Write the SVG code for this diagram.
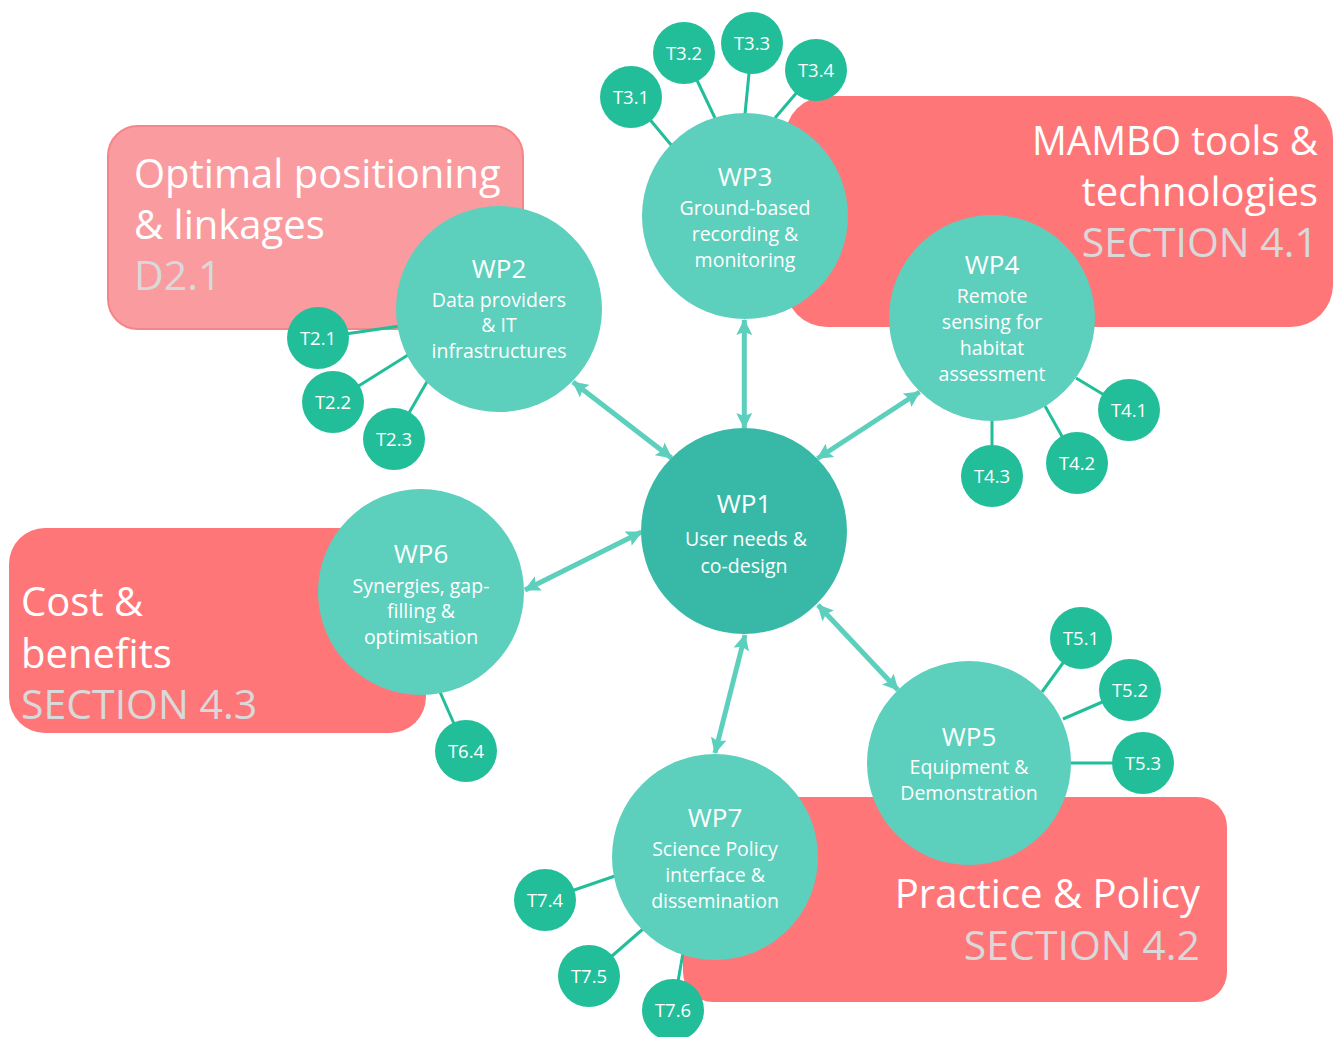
<svg xmlns="http://www.w3.org/2000/svg" width="1338" height="1037" viewBox="0 0 1338 1037">
<defs>
<marker id="ah" viewBox="0 0 16 16" refX="15" refY="8" markerWidth="16" markerHeight="16" markerUnits="userSpaceOnUse" orient="auto-start-reverse">
<path d="M0,0 L16,8 L0,16 L3,8 Z" fill="#5DCFBD"/>
</marker>
<style>
.box{fill:#FF7679}
.boxl{fill:#FA9B9F;stroke:#F4868A;stroke-width:2}
.big{font-family:"Open Sans","Liberation Sans",sans-serif;font-size:40px;fill:#FFFFFF}
.sec{font-family:"Open Sans","Liberation Sans",sans-serif;font-size:41px;fill:#D9D9D9}
.wp{fill:#5DCFBD}
.wp1{fill:#38B9A7}
.t{fill:#21BE99}
.wt{font-family:"Open Sans","Liberation Sans",sans-serif;font-size:26px;fill:#FFFFFF;text-anchor:middle}
.ws{font-family:"Open Sans","Liberation Sans",sans-serif;font-size:19.5px;fill:#FFFFFF;text-anchor:middle}
.tt{font-family:"Open Sans","Liberation Sans",sans-serif;font-size:18.5px;fill:#FFFFFF;text-anchor:middle}
.arr{stroke:#5DCFBD;stroke-width:5;fill:none;marker-start:url(#ah);marker-end:url(#ah)}
.tl{stroke:#21BE99;stroke-width:3}
</style>
</defs>
<rect width="1338" height="1037" fill="#FFFFFF"/>

<g id="box-optimal">
<rect class="boxl" x="108" y="126" width="415" height="203" rx="30"/>
<text class="big" x="134" y="188">Optimal positioning</text>
<text class="big" x="134" y="239">&amp; linkages</text>
<text class="sec" x="134" y="290">D2.1</text>
</g>
<g id="box-mambo">
<rect class="box" x="785" y="96" width="548" height="231" rx="42"/>
<text class="big" x="1318" y="155" text-anchor="end" textLength="286" lengthAdjust="spacingAndGlyphs">MAMBO tools &amp;</text>
<text class="big" x="1318" y="206" text-anchor="end">technologies</text>
<text class="sec" x="1318" y="257" text-anchor="end">SECTION 4.1</text>
</g>
<g id="box-cost">
<rect class="box" x="9" y="528" width="417" height="205" rx="36"/>
<text class="big" x="21" y="616">Cost &amp;</text>
<text class="big" x="21" y="668">benefits</text>
<text class="sec" x="21" y="719">SECTION 4.3</text>
</g>
<g id="box-practice">
<rect class="box" x="683" y="797" width="544" height="205" rx="30"/>
<text class="big" x="1200" y="908" text-anchor="end">Practice &amp; Policy</text>
<text class="sec" x="1200" y="960" text-anchor="end">SECTION 4.2</text>
</g>

<g id="connectors">
<line class="arr" x1="744.3" y1="428" x2="744.3" y2="320"/>
<line class="arr" x1="671.5" y1="458" x2="573" y2="382"/>
<line class="arr" x1="817.5" y1="458.5" x2="919.5" y2="392"/>
<line class="arr" x1="641.5" y1="532" x2="525" y2="590"/>
<line class="arr" x1="818" y1="605" x2="898" y2="690"/>
<line class="arr" x1="745" y1="635" x2="715" y2="753"/>
<line class="tl" x1="631" y1="97" x2="672" y2="146"/>
<line class="tl" x1="684" y1="53" x2="715" y2="118"/>
<line class="tl" x1="752" y1="43" x2="745" y2="114"/>
<line class="tl" x1="816" y1="70" x2="775" y2="118"/>
<line class="tl" x1="318" y1="338" x2="400" y2="326"/>
<line class="tl" x1="333" y1="402" x2="408" y2="355"/>
<line class="tl" x1="394" y1="439" x2="428" y2="380"/>
<line class="tl" x1="1129" y1="410" x2="1076" y2="378"/>
<line class="tl" x1="1077" y1="463" x2="1045" y2="406"/>
<line class="tl" x1="992" y1="476" x2="992" y2="420"/>
<line class="tl" x1="1081" y1="638" x2="1042" y2="692"/>
<line class="tl" x1="1130" y1="690" x2="1063" y2="719"/>
<line class="tl" x1="1143" y1="763" x2="1070" y2="763"/>
<line class="tl" x1="466" y1="751" x2="440" y2="692"/>
<line class="tl" x1="545" y1="900" x2="615" y2="876"/>
<line class="tl" x1="589" y1="976" x2="643" y2="929"/>
<line class="tl" x1="673" y1="1010" x2="683" y2="953"/>
</g>

<g id="WP1"><circle class="wp1" cx="744" cy="531" r="103"/>
<text class="wt" x="744" y="513">WP1</text>
<text class="ws" x="746" y="546">User needs &amp;</text>
<text class="ws" x="744" y="573">co-design</text></g>
<g id="WP2"><circle class="wp" cx="499" cy="309" r="103"/>
<text class="wt" x="499" y="278">WP2</text>
<text class="ws" x="499" y="307">Data providers</text>
<text class="ws" x="499" y="332">&amp; IT</text>
<text class="ws" x="499" y="358">infrastructures</text></g>
<g id="WP3"><circle class="wp" cx="745" cy="216" r="103"/>
<text class="wt" x="745" y="186">WP3</text>
<text class="ws" x="745" y="215">Ground-based</text>
<text class="ws" x="745" y="241">recording &amp;</text>
<text class="ws" x="745" y="267">monitoring</text></g>
<g id="WP4"><circle class="wp" cx="992" cy="318" r="103"/>
<text class="wt" x="992" y="274">WP4</text>
<text class="ws" x="992" y="303">Remote</text>
<text class="ws" x="992" y="329">sensing for</text>
<text class="ws" x="992" y="355">habitat</text>
<text class="ws" x="992" y="381">assessment</text></g>
<g id="WP5"><circle class="wp" cx="969" cy="763" r="102"/>
<text class="wt" x="969" y="746">WP5</text>
<text class="ws" x="969" y="774">Equipment &amp;</text>
<text class="ws" x="969" y="800">Demonstration</text></g>
<g id="WP6"><circle class="wp" cx="421" cy="592" r="103"/>
<text class="wt" x="421" y="563">WP6</text>
<text class="ws" x="421" y="593">Synergies, gap-</text>
<text class="ws" x="421" y="618">filling &amp;</text>
<text class="ws" x="421" y="644">optimisation</text></g>
<g id="WP7"><circle class="wp" cx="715" cy="857" r="103"/>
<text class="wt" x="715" y="827">WP7</text>
<text class="ws" x="715" y="856">Science Policy</text>
<text class="ws" x="715" y="882">interface &amp;</text>
<text class="ws" x="715" y="908">dissemination</text></g>

<g id="T3.1"><circle class="t" cx="631" cy="97" r="31"/><text class="tt" x="631" y="104">T3.1</text></g>
<g id="T3.2"><circle class="t" cx="684" cy="53" r="31"/><text class="tt" x="684" y="60">T3.2</text></g>
<g id="T3.3"><circle class="t" cx="752" cy="43" r="31"/><text class="tt" x="752" y="50">T3.3</text></g>
<g id="T3.4"><circle class="t" cx="816" cy="70" r="31"/><text class="tt" x="816" y="77">T3.4</text></g>
<g id="T2.1"><circle class="t" cx="318" cy="338" r="31"/><text class="tt" x="318" y="345">T2.1</text></g>
<g id="T2.2"><circle class="t" cx="333" cy="402" r="31"/><text class="tt" x="333" y="409">T2.2</text></g>
<g id="T2.3"><circle class="t" cx="394" cy="439" r="31"/><text class="tt" x="394" y="446">T2.3</text></g>
<g id="T4.1"><circle class="t" cx="1129" cy="410" r="31"/><text class="tt" x="1129" y="417">T4.1</text></g>
<g id="T4.2"><circle class="t" cx="1077" cy="463" r="31"/><text class="tt" x="1077" y="470">T4.2</text></g>
<g id="T4.3"><circle class="t" cx="992" cy="476" r="31"/><text class="tt" x="992" y="483">T4.3</text></g>
<g id="T5.1"><circle class="t" cx="1081" cy="638" r="31"/><text class="tt" x="1081" y="645">T5.1</text></g>
<g id="T5.2"><circle class="t" cx="1130" cy="690" r="31"/><text class="tt" x="1130" y="697">T5.2</text></g>
<g id="T5.3"><circle class="t" cx="1143" cy="763" r="31"/><text class="tt" x="1143" y="770">T5.3</text></g>
<g id="T6.4"><circle class="t" cx="466" cy="751" r="31"/><text class="tt" x="466" y="758">T6.4</text></g>
<g id="T7.4"><circle class="t" cx="545" cy="900" r="31"/><text class="tt" x="545" y="907">T7.4</text></g>
<g id="T7.5"><circle class="t" cx="589" cy="976" r="31"/><text class="tt" x="589" y="983">T7.5</text></g>
<g id="T7.6"><circle class="t" cx="673" cy="1010" r="31"/><text class="tt" x="673" y="1017">T7.6</text></g>
</svg>
